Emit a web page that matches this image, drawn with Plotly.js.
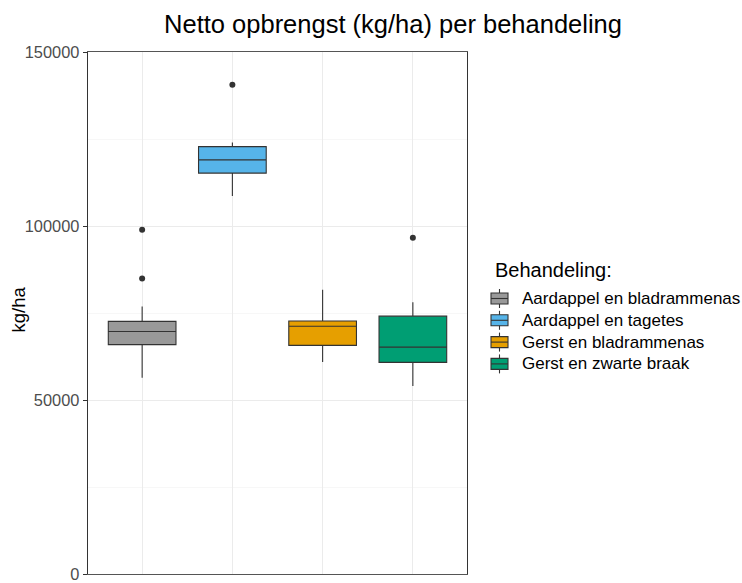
<!DOCTYPE html>
<html>
<head>
<meta charset="utf-8">
<script src="https://cdn.plot.ly/plotly-3.0.1.min.js"></script>
<style>
  html, body { margin: 0; padding: 0; background: #ffffff; }
  #chart { width: 742px; height: 583px; }
</style>
</head>
<body>
<div id="chart"></div>
<script>
// Treatments and their box statistics (kg/ha)
const categories = [
  "Aardappel en bladrammenas",
  "Aardappel en tagetes",
  "Gerst en bladrammenas",
  "Gerst en zwarte braak"
];
const lowerWhisker = [56400, 108600, 60900, 54000];
const q1Values     = [65900, 115200, 65700, 60800];
const medianValues = [69700, 119000, 71200, 65200];
const q3Values     = [72600, 122800, 72700, 74100];
const upperWhisker = [76900, 124000, 81700, 78100];

// Points beyond the whiskers
const outlierCategory = [
  "Aardappel en bladrammenas",
  "Aardappel en bladrammenas",
  "Aardappel en tagetes",
  "Gerst en zwarte braak"
];
const outlierValues = [84900, 98900, 140600, 96600];

const yTickValues = [0, 50000, 100000, 150000];
const yTickLabels = ["0", "50000", "100000", "150000"];

const yTitle = "kg/ha";
const legendTitle = "Behandeling:";
const fillColors = ["#999999", "#56B4E9", "#E69F00", "#009E73"];

// Figure geometry (pixels)
const W = 742, H = 583;
const M = { l: 88, r: 275, t: 52, b: 9 };
const plotW = W - M.l - M.r, plotH = H - M.t - M.b;
const px2x = px => (px - M.l) / plotW;          // pixel -> paper x
const px2y = py => 1 - (py - M.t) / plotH;      // pixel -> paper y

const traces = categories.map((cat, i) => ({
  type: "box",
  name: cat,
  x: [cat],
  q1: [q1Values[i]],
  median: [medianValues[i]],
  q3: [q3Values[i]],
  lowerfence: [lowerWhisker[i]],
  upperfence: [upperWhisker[i]],
  width: 0.75,
  whiskerwidth: 0,
  fillcolor: fillColors[i],
  line: { color: "#333333", width: 1.1 },
  showlegend: false,
  hoverinfo: "skip"
}));

traces.push({
  type: "scatter",
  mode: "markers",
  x: outlierCategory,
  y: outlierValues,
  marker: { color: "#333333", size: 6 },
  showlegend: false,
  hoverinfo: "skip"
});

// Legend drawn as key glyphs (box + whisker stubs) with labels
const shapes = [];
const annotations = [];
const keyLeft = 491, keyRight = 508, keyMid = (keyLeft + keyRight) / 2;
const rowTop = 298.5, rowStep = 21.8;

// Rotated y-axis title
annotations.push({
  xref: "paper", yref: "paper",
  x: px2x(17.5), y: px2y(310),
  xanchor: "center", yanchor: "middle",
  textangle: -90,
  text: yTitle, showarrow: false,
  font: { size: 18.5, color: "#000000" }
});

annotations.push({
  xref: "paper", yref: "paper",
  x: px2x(493), y: px2y(270),
  xanchor: "left", yanchor: "middle",
  text: legendTitle, showarrow: false,
  font: { size: 20, color: "#000000" }
});

categories.forEach((cat, i) => {
  const cy = rowTop + i * rowStep;
  const lineStyle = { color: "#333333", width: 1.1 };
  shapes.push({
    type: "line", xref: "paper", yref: "paper",
    x0: px2x(keyMid), x1: px2x(keyMid), y0: px2y(cy - 9.5), y1: px2y(cy + 9.5),
    line: lineStyle, layer: "above"
  });
  shapes.push({
    type: "rect", xref: "paper", yref: "paper",
    x0: px2x(keyLeft), x1: px2x(keyRight), y0: px2y(cy - 5.5), y1: px2y(cy + 5.5),
    fillcolor: fillColors[i], line: lineStyle, layer: "above"
  });
  shapes.push({
    type: "line", xref: "paper", yref: "paper",
    x0: px2x(keyLeft), x1: px2x(keyRight), y0: px2y(cy), y1: px2y(cy),
    line: lineStyle, layer: "above"
  });
  annotations.push({
    xref: "paper", yref: "paper",
    x: px2x(520), y: px2y(cy),
    xanchor: "left", yanchor: "middle",
    text: cat, showarrow: false,
    font: { size: 17, color: "#000000" }
  });
});

const layout = {
  width: W,
  height: H,
  margin: M,
  paper_bgcolor: "#ffffff",
  plot_bgcolor: "#ffffff",
  font: { family: "Liberation Sans, Arial, sans-serif", color: "#000000" },
  title: {
    text: "Netto opbrengst (kg/ha) per behandeling",
    font: { size: 25.5, color: "#000000" },
    x: 393 / W,
    xanchor: "center",
    y: 1 - 24 / H,
    yanchor: "middle"
  },
  boxmode: "overlay",
  showlegend: false,
  shapes: shapes,
  annotations: annotations,
  xaxis: {
    type: "category",
    categoryorder: "array",
    categoryarray: categories,
    range: [-0.6, 3.6],
    showticklabels: false,
    ticks: "",
    showgrid: true,
    gridcolor: "#ebebeb",
    gridwidth: 1,
    showline: true,
    linecolor: "#555555",
    linewidth: 1.3,
    mirror: true,
    zeroline: false,
    fixedrange: true
  },
  yaxis: {
    range: [0, 150000],
    tickvals: yTickValues,
    ticktext: yTickLabels,
    tickfont: { size: 16.4, color: "#4d4d4d" },
    ticks: "outside",
    ticklen: 4,
    tickcolor: "#333333",
    tickwidth: 1,
    showgrid: true,
    gridcolor: "#ebebeb",
    gridwidth: 1,
    minor: { dtick: 25000, tick0: 0, showgrid: true, gridcolor: "#f2f2f2", gridwidth: 0.6, ticks: "" },
    showline: true,
    linecolor: "#333333",
    linewidth: 1.3,
    mirror: true,
    zeroline: false,
    fixedrange: true
  }
};

Plotly.newPlot("chart", traces, layout, { displayModeBar: false, staticPlot: true });
</script>
</body>
</html>
